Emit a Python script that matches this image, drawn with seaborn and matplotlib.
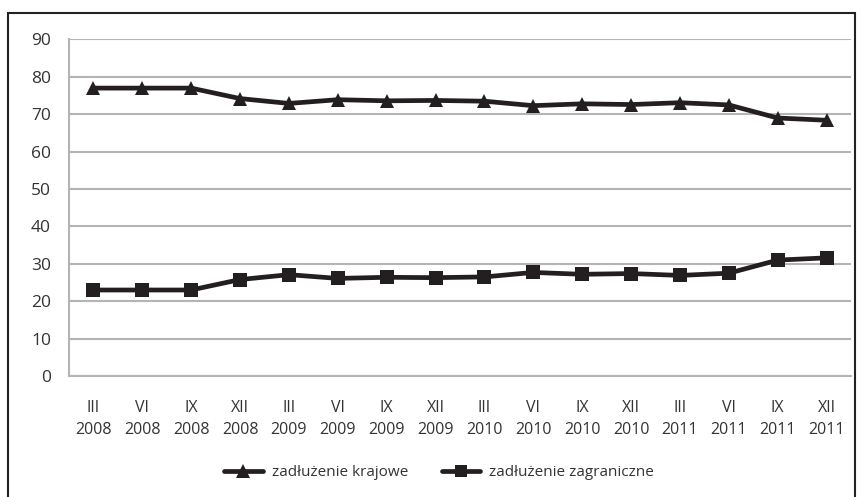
import matplotlib
matplotlib.use("Agg")
import matplotlib.pyplot as plt
from matplotlib.patches import Rectangle
from matplotlib.lines import Line2D
import seaborn as sns
import pandas as pd
import numpy as np

# Quarter labels (month in Roman numerals, year below)
quarters = ["III", "VI", "IX", "XII"] * 4
years = ["2008"] * 4 + ["2009"] * 4 + ["2010"] * 4 + ["2011"] * 4
tick_labels = [f"{q}\n{y}" for q, y in zip(quarters, years)]

# Share of debt (%)
krajowe = [77.0, 77.0, 77.0, 74.2, 72.9, 73.9, 73.6, 73.7, 73.5, 72.3, 72.8, 72.6, 73.1, 72.5, 69.0, 68.4]
zagraniczne = [23.0, 23.0, 23.0, 25.8, 27.1, 26.1, 26.4, 26.3, 26.5, 27.7, 27.2, 27.4, 26.9, 27.5, 31.0, 31.6]

series_names = ["zadłużenie krajowe", "zadłużenie zagraniczne"]

pos = np.arange(len(tick_labels))
df = pd.DataFrame({
    "x": np.concatenate([pos, pos]),
    "value": krajowe + zagraniczne,
    "series": [series_names[0]] * len(pos) + [series_names[1]] * len(pos),
})

sns.set_style("white")
plt.rcParams["font.family"] = ["Open Sans", "DejaVu Sans"]

W, H = 861, 497
fig = plt.figure(figsize=(W / 100, H / 100), dpi=100)
ax = fig.add_axes([69 / W, 1 - 376 / H, (851 - 69) / W, (376 - 39.5) / H])

ink = "#231f20"
grid_c = "#b4b4b4"

sns.lineplot(data=df, x="x", y="value", hue="series", style="series",
             markers={series_names[0]: "^", series_names[1]: "s"},
             dashes=False, palette=[ink, ink], linewidth=3.4,
             markersize=10, markeredgewidth=0, legend=False, ax=ax)

ax.set_xlim(-0.5, len(pos) - 0.5)
ax.set_ylim(0, 90)
ax.set_yticks(range(0, 91, 10))
ax.yaxis.grid(True, color=grid_c, linewidth=1.5)
ax.set_axisbelow(True)
ax.set_xlabel("")
ax.set_ylabel("")

ax.set_xticks(pos)
ax.set_xticklabels(tick_labels, linespacing=1.55)
ax.set_xticks(np.arange(-0.5, len(pos)), minor=True)
ax.tick_params(axis="x", which="major", length=0, pad=17, labelsize=11.5, labelcolor="#333333")
ax.tick_params(axis="x", which="minor", length=7, width=1.2, color=grid_c, direction="out")
ax.tick_params(axis="y", length=7, width=1.2, color=grid_c, direction="out", pad=6,
               labelsize=12.5, labelcolor="#333333")

for s in ["top", "right"]:
    ax.spines[s].set_visible(False)
for s in ["left", "bottom"]:
    ax.spines[s].set_color(grid_c)
    ax.spines[s].set_linewidth(1.5)

handles = [
    Line2D([], [], color=ink, linewidth=3.4, marker="^", markersize=10, markeredgewidth=0),
    Line2D([], [], color=ink, linewidth=3.4, marker="s", markersize=9, markeredgewidth=0),
]
fig.legend(handles, series_names, loc="center", bbox_to_anchor=(0.51, 1 - 473 / H),
           ncol=2, frameon=False, fontsize=11, handlelength=2.5, handletextpad=0.6,
           columnspacing=2.2, labelcolor="#333333")

# Outer frame
fig.add_artist(Rectangle((8 / W, -0.1), (855 - 8) / W, 1 - 13 / H + 0.1,
                         transform=fig.transFigure, fill=False,
                         edgecolor="#222222", linewidth=1.5))

fig.savefig("out.png", dpi=100, facecolor="white")
